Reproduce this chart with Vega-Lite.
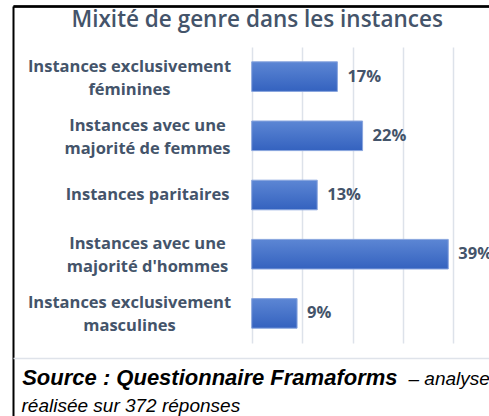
{
  "$schema": "https://vega.github.io/schema/vega-lite/v6.json",
  "width": 476,
  "height": 410,
  "autosize": "none",
  "padding": {"left": 13, "top": 6, "right": 0, "bottom": 0},
  "background": "white",
  "config": {"view": {"stroke": null}},
  "data": {
    "values": [
      {"cat": "Instances exclusivement\nféminines", "v": 0.17},
      {"cat": "Instances avec une\nmajorité de femmes", "v": 0.22},
      {"cat": "Instances paritaires", "v": 0.13},
      {"cat": "Instances avec une\nmajorité d'hommes", "v": 0.39},
      {"cat": "Instances exclusivement\nmasculines", "v": 0.09}
    ]
  },
  "layer": [
    {
      "mark": {
        "type": "bar",
        "color": {
          "gradient": "linear",
          "x1": 0, "y1": 0, "x2": 0, "y2": 1,
          "stops": [
            {"offset": 0, "color": "#5c86d4"},
            {"offset": 1, "color": "#3462bf"}
          ]
        },
        "stroke": "#89a5de",
        "strokeWidth": 1
      },
      "encoding": {
        "y": {
          "field": "cat",
          "type": "nominal",
          "sort": null,
          "scale": {"range": [41, 337], "paddingInner": 0.5, "paddingOuter": 0.25},
          "axis": {
            "orient": "left",
            "domain": false,
            "ticks": false,
            "grid": false,
            "labelExpr": "split(datum.label, '\\n')",
            "labelAlign": "center",
            "labelBaseline": "middle",
            "labelPadding": {"condition": {"test": "indexof(datum.value, 'exclusivement') >= 0", "value": -116}, "value": -134},
            "labelOffset": {"condition": {"test": "indexof(datum.value, '\\n') >= 0", "value": -10}, "value": 0},
            "labelFont": "Open Sans",
            "labelFontWeight": "bold",
            "labelFontSize": 16.5,
            "labelColor": "#44546a",
            "labelLineHeight": 23,
            "labelLimit": 0,
            "labelOverlap": false,
            "title": "réalisée sur 372 réponses",
            "titleAngle": 0,
            "titleX": 8,
            "titleY": 405,
            "titleAlign": "left",
            "titleBaseline": "alphabetic",
            "titleFont": "Liberation Sans",
            "titleFontStyle": "italic",
            "titleFontWeight": "normal",
            "titleFontSize": 19,
            "titleColor": "#000000"
          }
        },
        "x": {
          "field": "v",
          "type": "quantitative",
          "scale": {"domain": [-0.4736, 0.4708], "nice": false, "zero": true},
          "axis": {
            "orient": "top",
            "offset": 0,
            "domain": true,
            "domainColor": "#000000",
            "domainWidth": 2.5,
            "ticks": true,
            "values": [-0.4736],
            "tickSize": -410,
            "tickColor": "#000000",
            "tickWidth": 2,
            "labels": false,
            "grid": false,
            "title": "Mixité de genre dans les instances",
            "titleX": 243.7,
            "titleY": 20.7,
            "titleAlign": "center",
            "titleBaseline": "alphabetic",
            "titleFont": "Open Sans",
            "titleFontSize": 22.5,
            "titleFontWeight": 600,
            "titleColor": "#44546a"
          }
        }
      }
    },
    {
      "mark": {
        "type": "text",
        "align": "left",
        "baseline": "middle",
        "dx": 10,
        "font": "Open Sans",
        "fontWeight": "bold",
        "fontSize": 16.5,
        "color": "#44546a"
      },
      "encoding": {
        "y": {
          "field": "cat",
          "type": "nominal",
          "sort": null,
          "scale": {"range": [41, 337], "paddingInner": 0.5, "paddingOuter": 0.25},
          "axis": {
            "orient": "left",
            "domain": false,
            "labels": false,
            "grid": false,
            "title": null,
            "ticks": true,
            "values": ["Instances exclusivement\nféminines"],
            "tickOffset": -70.6,
            "tickSize": -476,
            "tickColor": "#000000",
            "tickWidth": 2
          }
        },
        "x": {
          "field": "v",
          "type": "quantitative",
          "scale": {"domain": [-0.4736, 0.4708], "nice": false, "zero": true},
          "axis": {
            "orient": "bottom",
            "offset": -73,
            "domain": false,
            "ticks": true,
            "tickSize": -296,
            "tickColor": "#dde2ea",
            "tickWidth": 1.5,
            "labels": false,
            "grid": false,
            "values": [0, 0.1, 0.2, 0.3, 0.4],
            "title": "– analyse",
            "titleX": 395,
            "titleY": 41.3,
            "titleAlign": "left",
            "titleBaseline": "alphabetic",
            "titleFont": "Liberation Sans",
            "titleFontStyle": "italic",
            "titleFontWeight": "normal",
            "titleFontSize": 19,
            "titleColor": "#000000"
          }
        },
        "text": {"field": "v", "type": "quantitative", "format": ".0%"}
      }
    },
    {
      "mark": {"type": "bar", "opacity": 0},
      "encoding": {
        "y": {
          "field": "cat",
          "type": "nominal",
          "sort": null,
          "scale": {"range": [41, 337], "paddingInner": 0.5, "paddingOuter": 0.25},
          "axis": null
        },
        "x": {
          "field": "v",
          "type": "quantitative",
          "scale": {"domain": [-0.4736, 0.4708], "nice": false, "zero": true},
          "axis": {
            "orient": "bottom",
            "offset": -58,
            "domain": true,
            "domainColor": "#dfe3ea",
            "domainWidth": 1.5,
            "ticks": false,
            "labels": false,
            "grid": false,
            "title": "Source : Questionnaire Framaforms",
            "titleX": 8.7,
            "titleY": 26.3,
            "titleAlign": "left",
            "titleBaseline": "alphabetic",
            "titleFont": "Liberation Sans",
            "titleFontStyle": "italic",
            "titleFontWeight": "bold",
            "titleFontSize": 22,
            "titleColor": "#000000"
          }
        }
      }
    }
  ],
  "resolve": {"axis": {"x": "independent", "y": "independent"}}
}
